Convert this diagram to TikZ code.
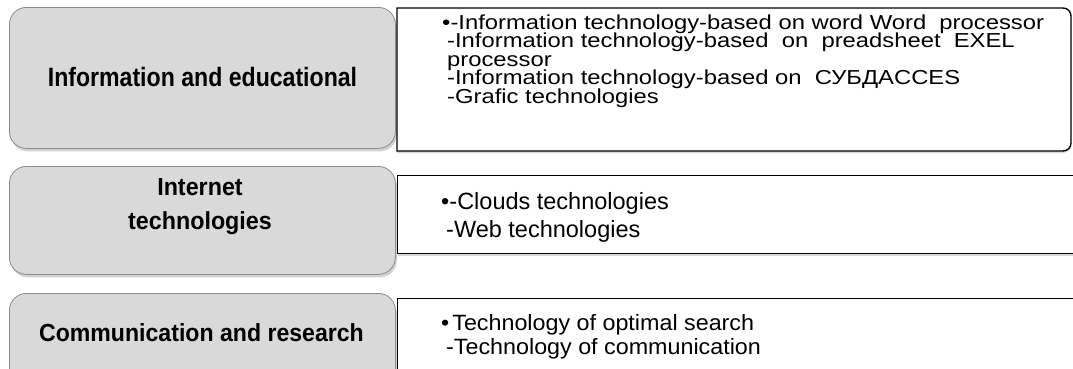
\documentclass[tikz,border=0pt]{standalone}
\usepackage{fontspec}
\setmainfont{Liberation Sans}
\usetikzlibrary{shadows}
\definecolor{gfill}{RGB}{217,217,217}
\definecolor{gline}{RGB}{140,140,140}
\newcommand{\vsq}[2]{\scalebox{1}[#1]{#2}}
\newcommand{\fixedlines}[2]{\vtop{\baselineskip=#1\lineskiplimit=-200pt\lineskip=0pt #2}}
\begin{document}
\begin{tikzpicture}[x=1pt,y=-1pt,
  gbox/.style={draw=gline, fill=gfill, rounded corners=17pt, line width=0.8pt,
    drop shadow={shadow xshift=1.5pt, shadow yshift=-3pt, opacity=0.35},
    anchor=north west, inner sep=0pt},
  wbox/.style={draw=black, fill=white, line width=1.4pt, anchor=north west, inner sep=0pt,
    drop shadow={shadow xshift=0pt, shadow yshift=-2pt, opacity=0.3}},
  lbl/.style={inner sep=0pt, anchor=base},
  txt/.style={inner sep=0pt, anchor=base west}]
\useasboundingbox (0,0) rectangle (1073,368);
\clip (0,0) rectangle (1073,368);
\fill[white] (0,0) rectangle (1073,368);

% grey category boxes
\node[gbox, minimum width=386pt, minimum height=141pt] (g1) at (9,7) {};
\node[gbox, minimum width=386pt, minimum height=108pt] (g2) at (9,166) {};
\node[gbox, minimum width=386pt, minimum height=100pt] (g3) at (9,293) {};

% white content boxes
\draw[draw=black, fill=white, line width=1.4pt,
  drop shadow={shadow xshift=0pt, shadow yshift=-2pt, opacity=0.3}]
  (700,8) [rounded corners=8pt] -- (1071,8) -- (1071,151) -- (700,151)
  [sharp corners] -- (397,151) -- (397,8) -- cycle;
\node[wbox, minimum width=690pt, minimum height=78pt] (w2) at (397,175) {};
\node[wbox, minimum width=690pt, minimum height=90pt] (w3) at (397,298) {};

% labels
\node[lbl] (l1) at (202.5,86.7) {\vsq{1.15}{\fontsize{23.1}{28}\selectfont\bfseries Information and educational}};
\node[lbl] (l2) at (200,195) {\vsq{1.06}{\fontsize{23.3}{33}\selectfont\bfseries\begin{tabular}[t]{@{}c@{}}Internet\\technologies\end{tabular}}};
\node[lbl] (l3) at (201.5,341.7) {\vsq{1.07}{\fontsize{23.1}{28}\selectfont\bfseries Communication and research}};

% contents
\node[txt] (t1) at (442,29) {\vsq{0.85}{\fontsize{23.8}{21.8}\selectfont\fixedlines{21.8pt}{%
\hbox{•-Information technology-based on word Word\ \ processor}%
\hbox{\hspace{5pt}-Information technology-based\ \ on\ \ preadsheet\ \ EXEL}%
\hbox{\hspace{5pt}processor}%
\hbox{\hspace{5pt}-Information technology-based on\ \ СУБДACCES}%
\hbox{\hspace{5pt}-Grafic technologies}}}};
\node[txt] (t2) at (441,209) {\vsq{1.0}{\fontsize{23.5}{28}\selectfont\fixedlines{28pt}{%
\hbox{•-Clouds technologies}%
\hbox{\hspace{5pt}-Web technologies}}}};
\node[txt] (t3) at (441,330) {\vsq{0.95}{\fontsize{23.3}{25.3}\selectfont\fixedlines{25.3pt}{%
\hbox{•\hspace{3pt}Technology of optimal search}%
\hbox{\hspace{5pt}-Technology of communication}}}};
\end{tikzpicture}
\end{document}
